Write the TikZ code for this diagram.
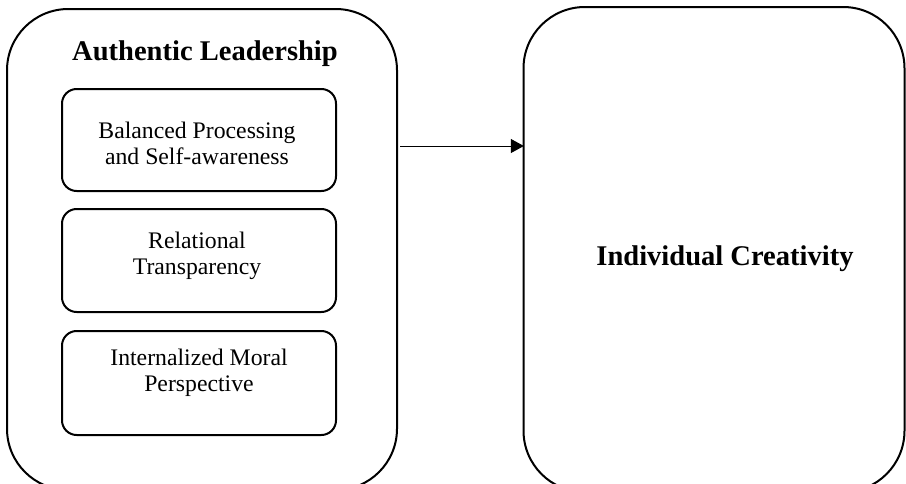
\documentclass[tikz,border=0pt]{standalone}
\usepackage{fontspec}
\setmainfont{Liberation Serif}
\usetikzlibrary{arrows.meta}
\tikzset{
  bigbox/.style={draw, line width=1.5pt, rounded corners=46pt, inner sep=0pt},
  subbox/.style={draw, line width=1.5pt, rounded corners=11pt, minimum width=205.5pt, inner sep=0pt},
  subtext/.style={align=center, font=\fontsize{17.8}{19.6}\selectfont, inner sep=0pt},
  titletext/.style={font=\fontsize{21.4}{24}\selectfont\bfseries, inner sep=0pt, anchor=base},
  link/.style={line width=0.75pt, -{Triangle[length=9.75pt,width=10.5pt]}}
}
\begin{document}
\begin{tikzpicture}[x=0.75pt,y=-0.75pt]
\useasboundingbox (0,0) rectangle (906,483);
\clip (0,0) rectangle (906,483);
\node[bigbox, minimum width=292.5pt, minimum height=360.75pt] (L) at (202,249.5) {};
\node[bigbox, minimum width=285.75pt, minimum height=363.75pt] (R) at (714,249.5) {};
\node[titletext] (Lt) at (205,60) {Authentic Leadership};
\node[titletext] (Rt) at (725,265) {Individual Creativity};
\node[subbox, minimum height=76.5pt] (b1) at (199,140) {};
\node[subbox, minimum height=77.25pt] (b2) at (199,260.5) {};
\node[subbox, minimum height=78pt] (b3) at (199,383) {};
\node[subtext] (t1) at (197,143) {Balanced Processing\\and Self-awareness};
\node[subtext] (t2) at (197,256) {Relational\\Transparency};
\node[subtext] (t3) at (199,373) {Internalized Moral\\Perspective};
\coordinate (arow) at (0,146);
\draw[link] ([xshift=1.5pt]L.east |- arow) -- ([xshift=1pt]R.west |- arow);
\end{tikzpicture}
\end{document}
